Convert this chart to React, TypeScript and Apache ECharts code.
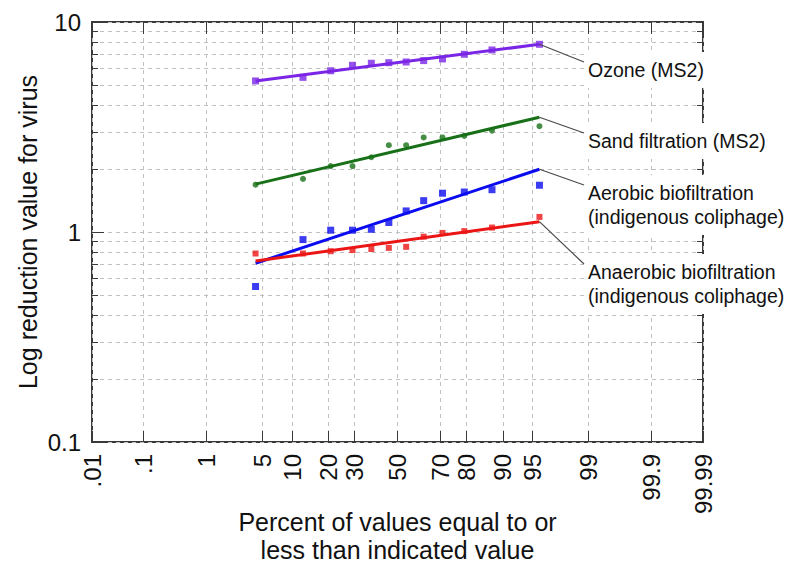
import React, { useEffect, useRef } from "react";
import * as echarts from "echarts";

// ---- data ----
const percentTicks = [0.01, 0.1, 1, 5, 10, 20, 30, 50, 70, 80, 90, 95, 99, 99.9, 99.99];
const percentTickLabels = [".01", ".1", "1", "5", "10", "20", "30", "50", "70", "80", "90", "95", "99", "99.9", "99.99"];

const yTickValues = [0.1, 0.2, 0.3, 0.4, 0.5, 0.6, 0.7, 0.8, 0.9, 1, 2, 3, 4, 5, 6, 7, 8, 9, 10];
const yMajorValues = [0.1, 1, 10];
const yMajorLabels = ["0.1", "1", "10"];

const plottingPercent = [4.2, 12.5, 20.8, 29.2, 37.5, 45.8, 54.2, 62.5, 70.8, 79.2, 87.5, 95.8];

const ozone = [5.24, 5.45, 5.86, 6.22, 6.36, 6.4, 6.45, 6.55, 6.67, 7.02, 7.36, 7.83];
const sand = [1.68, 1.79, 2.06, 2.06, 2.27, 2.59, 2.59, 2.82, 2.82, 2.87, 3.04, 3.19];
const aerobic = [0.55, 0.92, 1.02, 1.02, 1.03, 1.11, 1.26, 1.41, 1.53, 1.55, 1.59, 1.67];
const anaerobic = [0.79, 0.79, 0.81, 0.82, 0.83, 0.84, 0.85, 0.95, 0.99, 1.01, 1.05, 1.18];

const fitPercent = [4.2, 95.8];
const ozoneFit = [5.24, 7.83];
const sandFit = [1.69, 3.52];
const aerobicFit = [0.71, 1.99];
const anaerobicFit = [0.727, 1.12];

const seriesNames = [
  "Ozone (MS2)",
  "Sand filtration (MS2)",
  "Aerobic biofiltration\n(indigenous coliphage)",
  "Anaerobic biofiltration\n(indigenous coliphage)",
];
const seriesColors = ["#7b26e6", "#187018", "#0b0bf0", "#ec1515"];
const seriesSymbols = ["rect", "circle", "rect", "rect"];
const seriesSymbolSizes = [7, 6, 7, 6];

// label layout (pixels): centre of first text line
const labelFirstLineY = [70, 141, 193, 272];
const labelTextX = 588;

const FONT = '"Liberation Sans", Arial, sans-serif';

// inverse standard normal CDF (probability-scale transform)
function probit(p: number): number {
  const a = [-3.969683028665376e1, 2.209460984245205e2, -2.759285104469687e2, 1.38357751867269e2, -3.066479806614716e1, 2.506628277459239];
  const b = [-5.447609879822406e1, 1.615858368580409e2, -1.556989798598866e2, 6.680131188771972e1, -1.328068155288572e1];
  const c = [-7.784894002430293e-3, -3.223964580411365e-1, -2.400758277161838, -2.549732539343734, 4.374664141464968, 2.938163982698783];
  const d = [7.784695709041462e-3, 3.224671290700398e-1, 2.445134137142996, 3.754408661907416];
  const plow = 0.02425;
  const phigh = 1 - plow;
  if (p < plow) {
    const q = Math.sqrt(-2 * Math.log(p));
    return (((((c[0] * q + c[1]) * q + c[2]) * q + c[3]) * q + c[4]) * q + c[5]) / ((((d[0] * q + d[1]) * q + d[2]) * q + d[3]) * q + 1);
  }
  if (p <= phigh) {
    const q = p - 0.5;
    const r = q * q;
    return ((((((a[0] * r + a[1]) * r + a[2]) * r + a[3]) * r + a[4]) * r + a[5]) * q) / (((((b[0] * r + b[1]) * r + b[2]) * r + b[3]) * r + b[4]) * r + 1);
  }
  const q = Math.sqrt(-2 * Math.log(1 - p));
  return -(((((c[0] * q + c[1]) * q + c[2]) * q + c[3]) * q + c[4]) * q + c[5]) / ((((d[0] * q + d[1]) * q + d[2]) * q + d[3]) * q + 1);
}

const xz = (percent: number) => probit(percent / 100);
const ly = (v: number) => Math.log10(v);

export default function App() {
  const ref = useRef<HTMLDivElement>(null);

  useEffect(() => {
    if (!ref.current) return;
    const chart = echarts.init(ref.current, undefined, { renderer: "svg" });

    const xTickVals = percentTicks.map(xz);
    const xMin = xTickVals[0];
    const xMax = xTickVals[xTickVals.length - 1];
    const yTickVals = yTickValues.map(ly);
    const yMajorVals = yMajorValues.map(ly);

    const nearest = (vals: number[], labels: string[]) => (v: number) => {
      let best = 0;
      let bd = Infinity;
      vals.forEach((t, i) => {
        const dd = Math.abs(t - v);
        if (dd < bd) { bd = dd; best = i; }
      });
      return labels[best];
    };
    const xFormatter = nearest(xTickVals, percentTickLabels);
    const yFormatter = nearest(yMajorVals, yMajorLabels);

    const tickLine = { color: "#3a3a3a", width: 1 };
    const gridLine = { color: "#c0c0c0", width: 1, type: [4, 4] as any };
    const noLine = { show: false, onZero: false };

    const valueSets = [ozone, sand, aerobic, anaerobic];
    const fitSets = [ozoneFit, sandFit, aerobicFit, anaerobicFit];

    const series: any[] = [];
    valueSets.forEach((vals, k) => {
      series.push({
        type: "line",
        name: seriesNames[k] + " fit",
        data: fitPercent.map((p, i) => [xz(p), ly(fitSets[k][i])]),
        showSymbol: false,
        symbol: "none",
        lineStyle: { color: seriesColors[k], width: 3 },
        z: 2,
        silent: true,
      });
      series.push({
        type: "scatter",
        name: seriesNames[k],
        data: plottingPercent.map((p, i) => [xz(p), ly(vals[i])]),
        symbol: seriesSymbols[k],
        symbolSize: seriesSymbolSizes[k],
        itemStyle: { color: seriesColors[k] },
        z: 3,
      });
    });

    chart.setOption({
      animation: false,
      textStyle: { fontFamily: FONT },
      grid: {
        left: 92,
        top: 22,
        width: 611,
        height: 420,
        show: true,
        borderColor: "#3a3a3a",
        borderWidth: 2,
        containLabel: false,
        outerBoundsMode: "none",
      },
      xAxis: [
        {
          type: "value",
          position: "bottom",
          min: xMin,
          max: xMax,
          axisLine: noLine,
          axisTick: { show: true, inside: true, length: 11, customValues: xTickVals, lineStyle: tickLine },
          axisLabel: {
            show: true,
            customValues: xTickVals,
            rotate: 90,
            margin: 12,
            fontSize: 24,
            color: "#111",
            fontFamily: FONT,
            hideOverlap: false,
            formatter: xFormatter,
          },
          splitLine: { show: true, lineStyle: gridLine },
          name: "Percent of values equal to or\nless than indicated value",
          nameLocation: "middle",
          nameGap: 66,
          nameMoveOverlap: false,
          nameTextStyle: { fontSize: 25, lineHeight: 28, color: "#111", fontFamily: FONT },
        },
        {
          type: "value",
          position: "top",
          min: xMin,
          max: xMax,
          axisLine: noLine,
          axisTick: { show: true, inside: true, length: 12, customValues: xTickVals, lineStyle: tickLine },
          axisLabel: { show: false },
          splitLine: { show: false },
        },
      ],
      yAxis: [
        {
          type: "value",
          position: "left",
          min: -1,
          max: 1,
          axisLine: noLine,
          axisTick: { show: true, inside: true, length: 6, customValues: yTickVals, lineStyle: tickLine },
          axisLabel: {
            show: true,
            customValues: yMajorVals,
            margin: 11,
            fontSize: 24,
            color: "#111",
            fontFamily: FONT,
            formatter: yFormatter,
          },
          splitLine: { show: true, lineStyle: gridLine },
          name: "Log reduction value for virus",
          nameLocation: "middle",
          nameGap: 52,
          nameMoveOverlap: false,
          nameTextStyle: { fontSize: 25, color: "#111", fontFamily: FONT },
        },
        {
          type: "value",
          position: "left",
          min: -1,
          max: 1,
          axisLine: noLine,
          axisTick: { show: true, inside: true, length: 12, customValues: yMajorVals, lineStyle: tickLine },
          axisLabel: { show: false },
          splitLine: { show: false },
        },
        {
          type: "value",
          position: "right",
          min: -1,
          max: 1,
          axisLine: noLine,
          axisTick: { show: true, inside: true, length: 6, customValues: yTickVals, lineStyle: tickLine },
          axisLabel: { show: false },
          splitLine: { show: false },
        },
      ],
      series,
    });

    // annotation labels with leader lines from the end of each fit line
    const graphics: any[] = [];
    const lineH = 24;
    const padV = 6;
    fitSets.forEach((fit, k) => {
      const end = chart.convertToPixel({ xAxisIndex: 0, yAxisIndex: 0 } as any, [xz(fitPercent[1]), ly(fit[1])]) as number[];
      const cy = labelFirstLineY[k];
      graphics.push({
        type: "line",
        z: 90,
        shape: { x1: end[0], y1: end[1], x2: labelTextX - 4, y2: cy - 8 },
        style: { stroke: "#4a4a4a", lineWidth: 1.2 },
        silent: true,
      });
      graphics.push({
        type: "text",
        z: 100,
        x: labelTextX - 3,
        y: cy - lineH / 2 - padV,
        style: {
          text: seriesNames[k],
          font: `19.5px ${FONT}`,
          fill: "#111",
          lineHeight: lineH,
          backgroundColor: "#ffffff",
          padding: [padV, 3, padV, 3],
          align: "left",
          verticalAlign: "top",
        },
        silent: true,
      });
    });
    chart.setOption({ graphic: graphics });

    return () => chart.dispose();
  }, []);

  return (
    <div
      ref={ref}
      style={{ position: "absolute", left: 0, top: 0, width: 786, height: 567 }}
    />
  );
}
